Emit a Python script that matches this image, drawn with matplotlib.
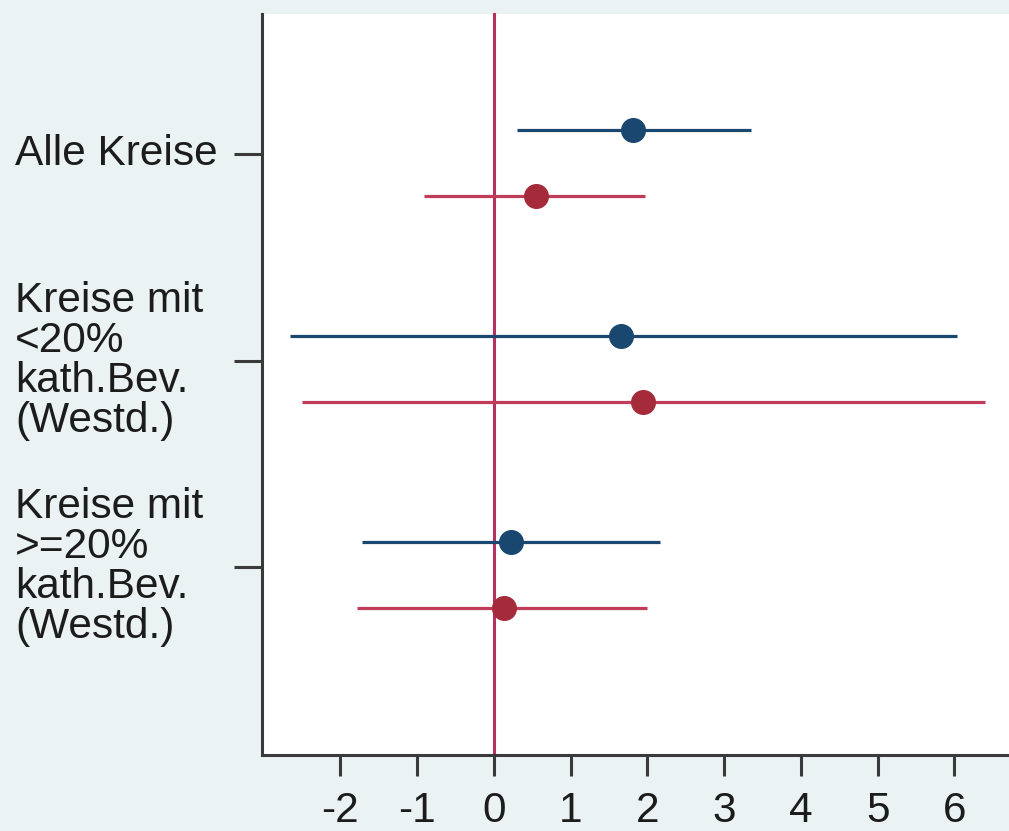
import numpy as np
import matplotlib.pyplot as plt
from matplotlib.transforms import blended_transform_factory

# Gruppen (von oben nach unten)
gruppen = ["Alle Kreise",
           "Kreise mit\n<20%\nkath.Bev.\n(Westd.)",
           "Kreise mit\n>=20%\nkath.Bev.\n(Westd.)"]

# Koeffizienten und Konfidenzintervalle, Modell 1 (blau)
koef_blau = [1.81, 1.66, 0.22]
ki_blau_unten = [0.30, -2.66, -1.72]
ki_blau_oben = [3.35, 6.03, 2.17]

# Modell 2 (rot)
koef_rot = [0.55, 1.94, 0.13]
ki_rot_unten = [-0.91, -2.50, -1.78]
ki_rot_oben = [1.97, 6.40, 2.00]

xticks = [-2, -1, 0, 1, 2, 3, 4, 5, 6]

bg = "#eaf2f3"
blau = "#1a476f"
rot_punkt = "#a52a3a"
rot_linie = "#c03c58"
null_linie = "#b33262"
achse = "#3a3a3a"
schrift = "#1c1c1c"

plt.rcParams['font.family'] = ['Liberation Sans', 'DejaVu Sans']

fig = plt.figure(figsize=(10.09, 8.31), dpi=100, facecolor=bg)
ax = fig.add_axes([262 / 1009, 1 - 755 / 831, 1 - 262 / 1009, (755 - 14) / 831])
ax.set_facecolor("white")

pos = np.arange(1, len(gruppen) + 1)
y_blau = pos - 0.12
y_rot = pos + 0.2

# Nulllinie
ax.axvline(0, color=null_linie, lw=2.2, zorder=1, clip_on=False)

# Konfidenzintervalle und Punktschaetzer
ax.hlines(y_blau, ki_blau_unten, ki_blau_oben, color=blau, lw=2.3, zorder=2)
ax.hlines(y_rot, ki_rot_unten, ki_rot_oben, color=rot_linie, lw=2.3, zorder=2)
ax.plot(koef_blau, y_blau, 'o', color=blau, ms=17, zorder=3)
ax.plot(koef_rot, y_rot, 'o', color=rot_punkt, ms=17, zorder=3)

ax.set_xlim(-3.02, 6.71)
ax.set_ylim(3.91, 0.32)
ax.set_xticks(xticks)
ax.set_xticklabels([str(t) for t in xticks], fontsize=30.5, color=schrift)
ax.set_yticks(pos)
ax.set_yticklabels([])

for s in ["top", "right"]:
    ax.spines[s].set_visible(False)
for s in ["left", "bottom"]:
    ax.spines[s].set_color(achse)
    ax.spines[s].set_linewidth(2.2)

ax.tick_params(axis="x", length=15, width=2.2, color=achse, pad=11)
ax.tick_params(axis="y", length=20, width=2.2, color=achse)

# Gruppenbeschriftung linksbuendig
trans = blended_transform_factory(fig.transFigure, ax.transData)
for p, name in zip(pos, gruppen):
    ax.text(15 / 1009, p, name, transform=trans, ha="left", va="center",
            fontsize=30.5, color=schrift, linespacing=1.0)

fig.savefig("out.png", dpi=100, facecolor=bg)
